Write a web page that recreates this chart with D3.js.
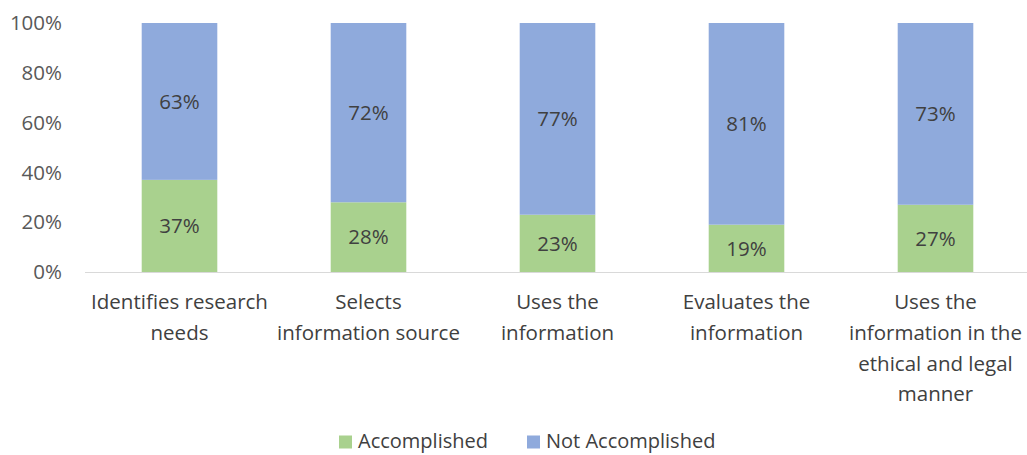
<!DOCTYPE html>
<html>
<head>
<meta charset="utf-8">
<script src="https://cdn.jsdelivr.net/npm/d3@7"></script>
<style>
  body { margin: 0; background: #fff; }
  svg text { font-family: "Open Sans", Carlito, Calibri, sans-serif; }
</style>
</head>
<body>
<div id="chart"></div>
<script>
const categories = [
  "Identifies research\nneeds",
  "Selects\ninformation source",
  "Uses the\ninformation",
  "Evaluates the\ninformation",
  "Uses the\ninformation in the\nethical and legal\nmanner"
];
const accomplished = [37, 28, 23, 19, 27];
const notAccomplished = [63, 72, 77, 81, 73];
const yTicks = [0, 20, 40, 60, 80, 100];
const seriesNames = ["Accomplished", "Not Accomplished"];
const colors = ["#A9D18E", "#8FAADC"];

const W = 1027, H = 455;
const fs = "20.5px";
const svg = d3.select("#chart").append("svg")
  .attr("width", W).attr("height", H);

const x = d3.scaleBand().domain(categories).range([85, 1030]).paddingInner(0.6).paddingOuter(0.3);
const y = d3.scaleLinear().domain([0, 100]).range([272, 23]);

const rows = categories.map((c, i) => ({ cat: c, a: accomplished[i], n: notAccomplished[i] }));
const stack = d3.stack().keys(["a", "n"])(rows);

// y tick labels
svg.append("g").selectAll("text")
  .data(yTicks)
  .join("text")
    .attr("x", 62)
    .attr("y", d => y(d))
    .attr("dy", "0.35em")
    .attr("text-anchor", "end")
    .attr("fill", "#595959")
    .style("font-size", fs)
    .text(d => d + "%");

// bars
stack.forEach((layer, k) => {
  const g = svg.append("g");
  g.selectAll("rect")
    .data(layer)
    .join("rect")
      .attr("x", d => x(d.data.cat))
      .attr("width", x.bandwidth())
      .attr("y", d => y(d[1]))
      .attr("height", d => y(d[0]) - y(d[1]))
      .attr("fill", colors[k]);
  g.selectAll("text")
    .data(layer)
    .join("text")
      .attr("x", d => x(d.data.cat) + x.bandwidth() / 2)
      .attr("y", d => y((d[0] + d[1]) / 2))
      .attr("dy", "0.35em")
      .attr("text-anchor", "middle")
      .attr("fill", "#404040")
      .style("font-size", fs)
      .text(d => (d[1] - d[0]) + "%");
});

// x axis line
svg.append("line")
  .attr("x1", 85).attr("x2", 1027)
  .attr("y1", y(0) + 0.5).attr("y2", y(0) + 0.5)
  .attr("stroke", "#d9d9d9").attr("stroke-width", 1);

// category labels
const labels = svg.append("g").selectAll("text")
  .data(categories)
  .join("text")
    .attr("x", d => x(d) + x.bandwidth() / 2)
    .attr("y", 302)
    .attr("text-anchor", "middle")
    .attr("fill", "#404040")
    .style("font-size", fs);
labels.each(function(d) {
  const t = d3.select(this);
  d.split("\n").forEach((line, i) => {
    t.append("tspan")
      .attr("x", t.attr("x"))
      .attr("y", 302 + i * 30.7)
      .attr("dy", "0.35em")
      .text(line);
  });
});

// legend
const legendX = [339, 527];
const legend = svg.append("g").selectAll("g")
  .data(seriesNames)
  .join("g")
    .attr("transform", (d, i) => `translate(${legendX[i]},441)`);
legend.append("rect")
  .attr("x", 0).attr("y", -5.5)
  .attr("width", 13).attr("height", 13)
  .attr("fill", (d, i) => colors[i]);
legend.append("text")
  .attr("x", 19).attr("y", 0)
  .attr("dy", "0.35em")
  .attr("fill", "#404040")
  .style("font-size", "20px")
  .text(d => d);
</script>
</body>
</html>
